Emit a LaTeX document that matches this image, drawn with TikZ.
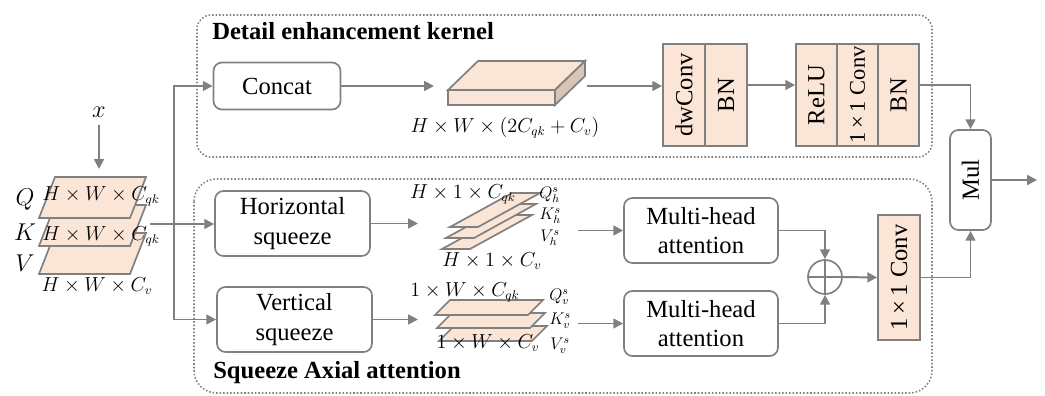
\documentclass[tikz,border=0pt]{standalone}
\usepackage{fontspec}
\setmainfont{Liberation Serif}
\usepackage{amsmath}
\usepackage{graphicx}
\usepackage{xcolor}
\usepackage{tikz}
\usetikzlibrary{arrows.meta}

\definecolor{linegray}{HTML}{808080}
\definecolor{peach}{HTML}{FBE5D6}
\definecolor{peachdark}{HTML}{D9C4B6}
\newcommand{\unitpx}{0.025cm}

\begin{document}
\begin{tikzpicture}[x=0.025cm, y=-0.025cm,
	font=\fontsize{17.5}{21}\selectfont,
	arr/.style={draw=linegray, line width=1.4pt, -{Triangle[length=7pt,width=7pt]}},
	line/.style={draw=linegray, line width=1.2pt},
	box/.style={draw=linegray, line width=1.2pt, rounded corners=6pt, fill=white, align=center, inner sep=0pt},
	opbox/.style={draw=linegray, line width=1.2pt, fill=peach, inner sep=0pt},
	plane/.style={draw=linegray, line width=1.2pt, fill=peach},
	region/.style={draw=linegray, line width=1.1pt, dash pattern=on 1.1pt off 1.4pt},
	dimlabel/.style={font=\fontsize{13.5}{15}\selectfont, inner sep=0pt},
	qkvlabel/.style={font=\fontsize{11.5}{13}\selectfont, inner sep=0pt, anchor=west},
	title/.style={font=\fontsize{17.5}{21}\selectfont\bfseries, anchor=west, inner sep=0pt}]
	\useasboundingbox (0,0) rectangle (1045,395);

	% dotted regions
	\draw[region, rounded corners=10pt] (197,15) rectangle (932,157);
	\draw[region, rounded corners=16pt] (194,179) rectangle (932,393);
	\node[title] (detailtitle) at (212,31) {Detail enhancement kernel};
	\node[title] (axialtitle) at (213,373) {Squeeze Axial attention};

	% input Q, K, V
	\foreach \n/\yb in {V/274, K/246, Q/218}
		\filldraw[plane] (39,\yb) -- (130,\yb) -- (146,\yb-41) -- (55,\yb-41) -- cycle;
	\node[dimlabel] (qdim) at (101,196) {$H\times W\times C_{qk}$};
	\node[dimlabel] (kdim) at (101,236) {$H\times W\times C_{qk}$};
	\node[dimlabel] (vdim) at (97,286) {$H\times W\times C_{v}$};
	\node[font=\fontsize{19}{21}\selectfont] (qlab) at (25,200) {$Q$};
	\node[font=\fontsize{19}{21}\selectfont] (klab) at (25,232) {$K$};
	\node[font=\fontsize{19}{21}\selectfont] (vlab) at (25,263) {$V$};
	\node[font=\fontsize{17}{19}\selectfont, inner sep=5pt] (xin) at (99,112) {$x$};
	\coordinate (stacktop) at (99,169);
	\draw[arr] (xin) -- (stacktop);

	% detail enhancement kernel
	\node[box, minimum width=127*\unitpx, minimum height=47*\unitpx] (concat) at (277,86) {Concat};
	\filldraw[plane] (448,90) rectangle (555,105);
	\filldraw[plane] (448,90) -- (478,61) -- (585,61) -- (555,90) -- cycle;
	\filldraw[plane, fill=peachdark] (555,90) -- (585,61) -- (585,76) -- (555,105) -- cycle;
	\node[dimlabel] (slabdim) at (505,128) {$H\times W\times(2C_{qk}+C_v)$};
	\coordinate (slabin) at (434,86);
	\coordinate (slabout) at (587,86);
	\node[opbox, minimum width=42*\unitpx, minimum height=102*\unitpx] (dw) at (684,95) {\rotatebox{90}{dwConv}};
	\node[opbox, minimum width=42*\unitpx, minimum height=102*\unitpx] (bn1) at (726,95) {\rotatebox{90}{BN}};
	\node[opbox, minimum width=41*\unitpx, minimum height=102*\unitpx] (relu) at (816.5,95) {\rotatebox{90}{ReLU}};
	\node[opbox, minimum width=41*\unitpx, minimum height=102*\unitpx, font=\fontsize{16}{19}\selectfont] (conv1) at (857.5,95) {\rotatebox{90}{1\,×\,1 Conv}};
	\node[opbox, minimum width=41*\unitpx, minimum height=102*\unitpx] (bn2) at (898.5,95) {\rotatebox{90}{BN}};

	% squeeze axial attention
	\node[box, minimum width=155*\unitpx, minimum height=65*\unitpx] (hsq) at (292.5,223.5) {Horizontal\\squeeze};
	\node[box, minimum width=155*\unitpx, minimum height=65*\unitpx] (vsq) at (294.5,319.5) {Vertical\\squeeze};
	\foreach \i in {2,1,0}
		\filldraw[plane] (450-4*\i,227+11*\i) -- (478-4*\i,227+11*\i) -- (540-4*\i,193+11*\i) -- (512-4*\i,193+11*\i) -- cycle;
	\node[dimlabel] (hqkdim) at (463,194) {$H\times 1\times C_{qk}$};
	\node[dimlabel] (hvdim) at (492,261) {$H\times 1\times C_{v}$};
	\node[qkvlabel] (qh) at (539,195) {$Q_h^s$};
	\node[qkvlabel] (kh) at (539,216) {$K_h^s$};
	\node[qkvlabel] (vh) at (540,238) {$V_h^s$};
	\foreach \i in {2,1,0}
		\filldraw[plane] (435+2*\i,315+13*\i) -- (528+2*\i,315+13*\i) -- (543+2*\i,300+13*\i) -- (450+2*\i,300+13*\i) -- cycle;
	\node[dimlabel] (vqkdim) at (465,292) {$1\times W\times C_{qk}$};
	\node[dimlabel] (vvdim) at (488,343) {$1\times W\times C_{v}$};
	\node[qkvlabel] (qv) at (549,297) {$Q_v^s$};
	\node[qkvlabel] (kv) at (549,321) {$K_v^s$};
	\node[qkvlabel] (vv) at (550,346) {$V_v^s$};
	\node[box, minimum width=154*\unitpx, minimum height=65*\unitpx] (mha1) at (701,230.5) {Multi-head\\attention};
	\node[box, minimum width=154*\unitpx, minimum height=65*\unitpx] (mha2) at (701,323.5) {Multi-head\\attention};
	\node[draw=linegray, line width=1.2pt, circle, minimum size=34*\unitpx, inner sep=0pt] (plus) at (825,277) {};
	\draw[line] (plus.north) -- (plus.south) (plus.west) -- (plus.east);
	\node[opbox, minimum width=42*\unitpx, minimum height=125*\unitpx] (conv2) at (899,277.5) {\rotatebox{90}{1\,×\,1 Conv}};
	\node[box, minimum width=41*\unitpx, minimum height=100*\unitpx] (mul) at (970.5,180) {\rotatebox{90}{Mul}};
	\coordinate (out) at (1037,180);

	% connectors
	\coordinate (rowA) at (0,85);
	\coordinate (stackout) at (150,224);
	\coordinate (branch) at (174,224);
	\coordinate (hsetin) at (418,223.5);
	\coordinate (vsetin) at (418,319.5);
	\coordinate (hsetout) at (578,230.5);
	\coordinate (vsetout) at (578,323.5);
	\draw[arr] (stackout) -- (stackout -| hsq.west);
	\draw[arr] (branch) |- (concat.west);
	\draw[arr] (branch) |- (vsq.west);
	\draw[arr] (concat.east) -- (slabin);
	\draw[arr] (slabout) -- (slabout -| dw.west);
	\draw[arr] (bn1.east |- rowA) -- (relu.west |- rowA);
	\draw[arr] (bn2.east |- rowA) -| (mul.north);
	\draw[arr] (hsq.east) -- (hsetin);
	\draw[arr] (vsq.east) -- (vsetin);
	\draw[arr] (hsetout) -- (mha1.west);
	\draw[arr] (vsetout) -- (mha2.west);
	\draw[arr] (mha1.east) -| (plus.north);
	\draw[arr] (mha2.east) -| (plus.south);
	\draw[arr] (plus.east) -- (conv2.west);
	\draw[arr] (conv2.east) -| (mul.south);
	\draw[arr] (mul.east) -- (out);
\end{tikzpicture}
\end{document}
